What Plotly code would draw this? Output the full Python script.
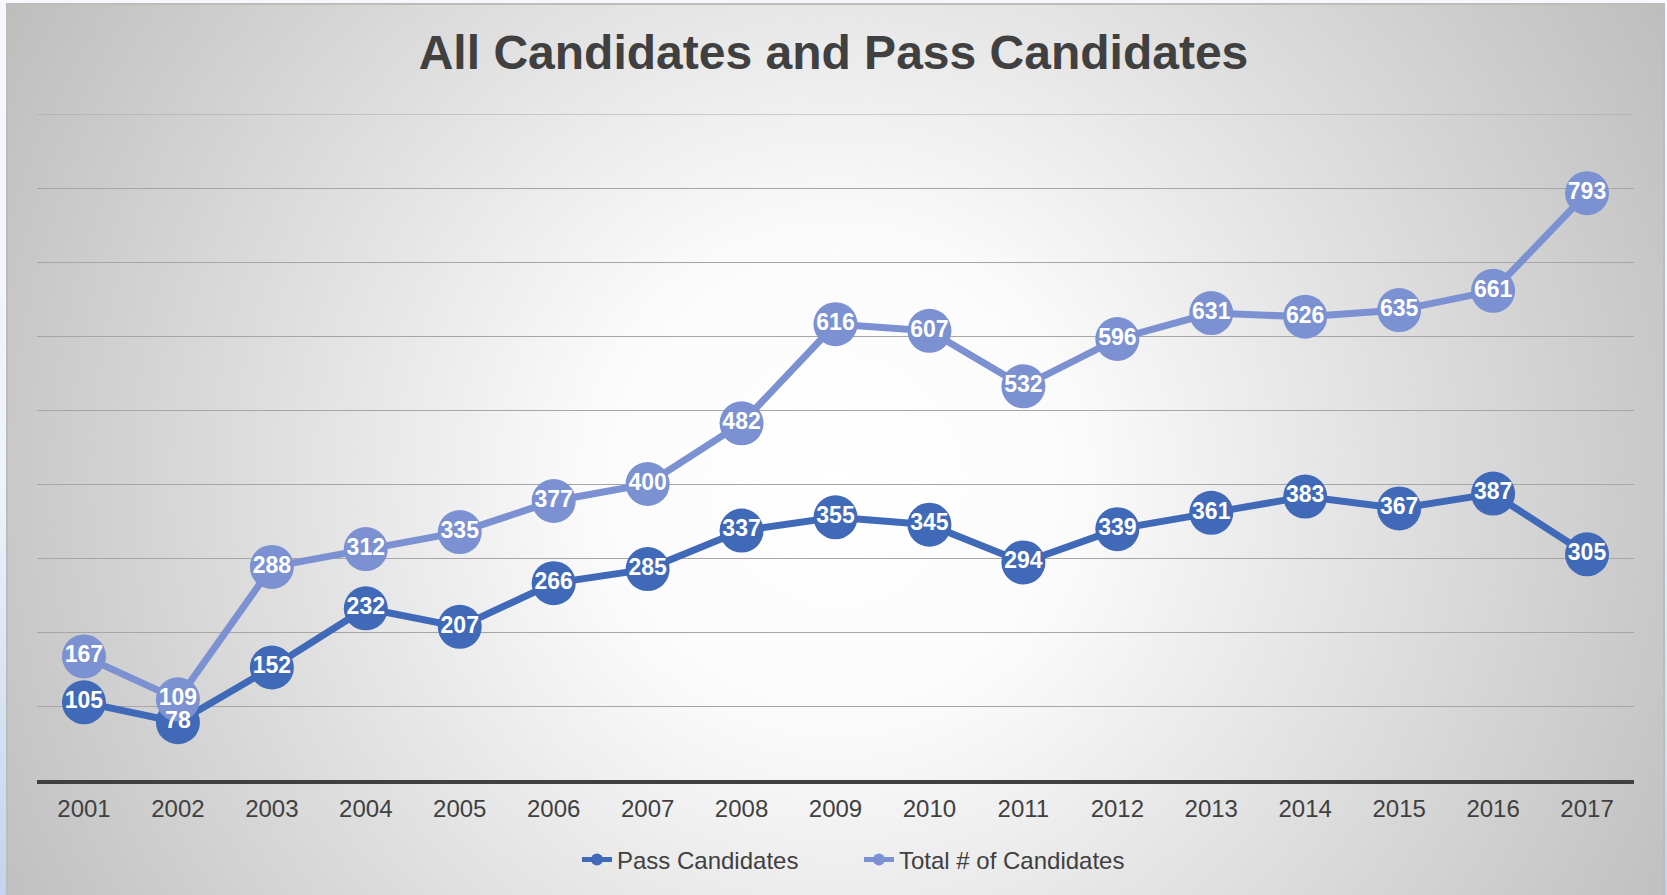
import base64
import plotly.graph_objects as go

years = [str(y) for y in range(2001, 2018)]
pass_candidates = [105, 78, 152, 232, 207, 266, 285, 337, 355, 345, 294, 339, 361, 383, 367, 387, 305]
total_candidates = [167, 109, 288, 312, 335, 377, 400, 482, 616, 607, 532, 596, 631, 626, 635, 661, 793]

W, H = 1667, 895
ML, MR, MT, MB = 37, 33, 114, 115
PW, PH = W - ML - MR, H - MT - MB

PASS_COLOR = "#4069b8"
TOTAL_COLOR = "#7b91d1"
TEXT_COLOR = "#404040"
GRID_COLOR = "#a6a6a6"
FONT = "Liberation Sans, Arial, sans-serif"

svg = f'''<svg xmlns="http://www.w3.org/2000/svg" width="{W}" height="{H}" viewBox="0 0 {W} {H}" preserveAspectRatio="none">
<defs>
<linearGradient id="pg" x1="0" y1="0" x2="0" y2="1">
<stop offset="0" stop-color="#f7f8fc"/><stop offset="0.55" stop-color="#eef2fa"/><stop offset="1" stop-color="#c3d3ef"/>
</linearGradient>
<radialGradient id="rg" gradientUnits="userSpaceOnUse" cx="836" cy="480" r="960">
<stop offset="0" stop-color="#ffffff"/><stop offset="0.25" stop-color="#fbfbfb"/><stop offset="1" stop-color="#bdbdbd"/>
</radialGradient>
</defs>
<rect x="0" y="0" width="{W}" height="{H}" fill="url(#pg)"/>
<rect x="7" y="4" width="1657" height="{H + 10}" fill="url(#rg)" stroke="#bcbcbc" stroke-width="2"/>
</svg>'''
src = "data:image/svg+xml;base64," + base64.b64encode(svg.encode()).decode()

fig = go.Figure()
fig.add_trace(go.Scatter(
    x=years, y=pass_candidates, name="Pass Candidates", mode="lines+markers",
    line=dict(color=PASS_COLOR, width=7), marker=dict(color=PASS_COLOR, size=44),
    hoverinfo="skip"))
fig.add_trace(go.Scatter(
    x=years, y=total_candidates, name="Total # of Candidates", mode="lines+markers",
    line=dict(color=TOTAL_COLOR, width=7), marker=dict(color=TOTAL_COLOR, size=44),
    hoverinfo="skip"))
for vals in (pass_candidates, total_candidates):
    fig.add_trace(go.Scatter(
        x=years, y=vals, mode="text", text=[str(v) for v in vals],
        textposition="middle center", showlegend=False, hoverinfo="skip",
        textfont=dict(family=FONT, size=23, color="white", weight="bold")))

fig.update_layout(
    width=W, height=H,
    margin=dict(l=ML, r=MR, t=MT, b=MB, pad=0, autoexpand=False),
    paper_bgcolor="white", plot_bgcolor="rgba(0,0,0,0)",
    images=[dict(source=src, xref="paper", yref="paper",
                 x=-ML / PW, y=1 + MT / PH, sizex=W / PW, sizey=H / PH,
                 xanchor="left", yanchor="top", sizing="stretch", layer="below")],
    shapes=[dict(type="line", xref="paper", yref="y", x0=0, x1=1, y0=900, y1=900,
                 line=dict(color=GRID_COLOR, width=1), layer="below")],
    title=dict(text="All Candidates and Pass Candidates", x=0.5, xanchor="center",
               xref="container", yref="container", y=1 - 52 / H, yanchor="middle",
               font=dict(family=FONT, size=48, color=TEXT_COLOR, weight="bold")),
    showlegend=True,
    legend=dict(orientation="h", x=0.5147, xanchor="center", y=-(860 - (H - MB)) / PH,
                yanchor="middle", font=dict(family=FONT, size=24, color=TEXT_COLOR),
                bgcolor="rgba(0,0,0,0)", itemsizing="constant", traceorder="normal",
                entrywidth=237, entrywidthmode="pixels"),
    xaxis=dict(type="category", range=[-0.5, 16.5], showgrid=False, zeroline=False,
               showline=True, linecolor="#404040", linewidth=4,
               ticks="outside", ticklen=4, tickcolor="rgba(0,0,0,0)",
               tickfont=dict(family=FONT, size=24, color=TEXT_COLOR), fixedrange=True),
    yaxis=dict(range=[0, 900], dtick=100, showticklabels=False, showgrid=True,
               gridcolor=GRID_COLOR, gridwidth=1, zeroline=False, showline=False,
               fixedrange=True),
)

fig.write_html("out.html", config={"displayModeBar": False},
               post_script="document.body.style.margin='0';document.body.style.overflow='hidden';")
